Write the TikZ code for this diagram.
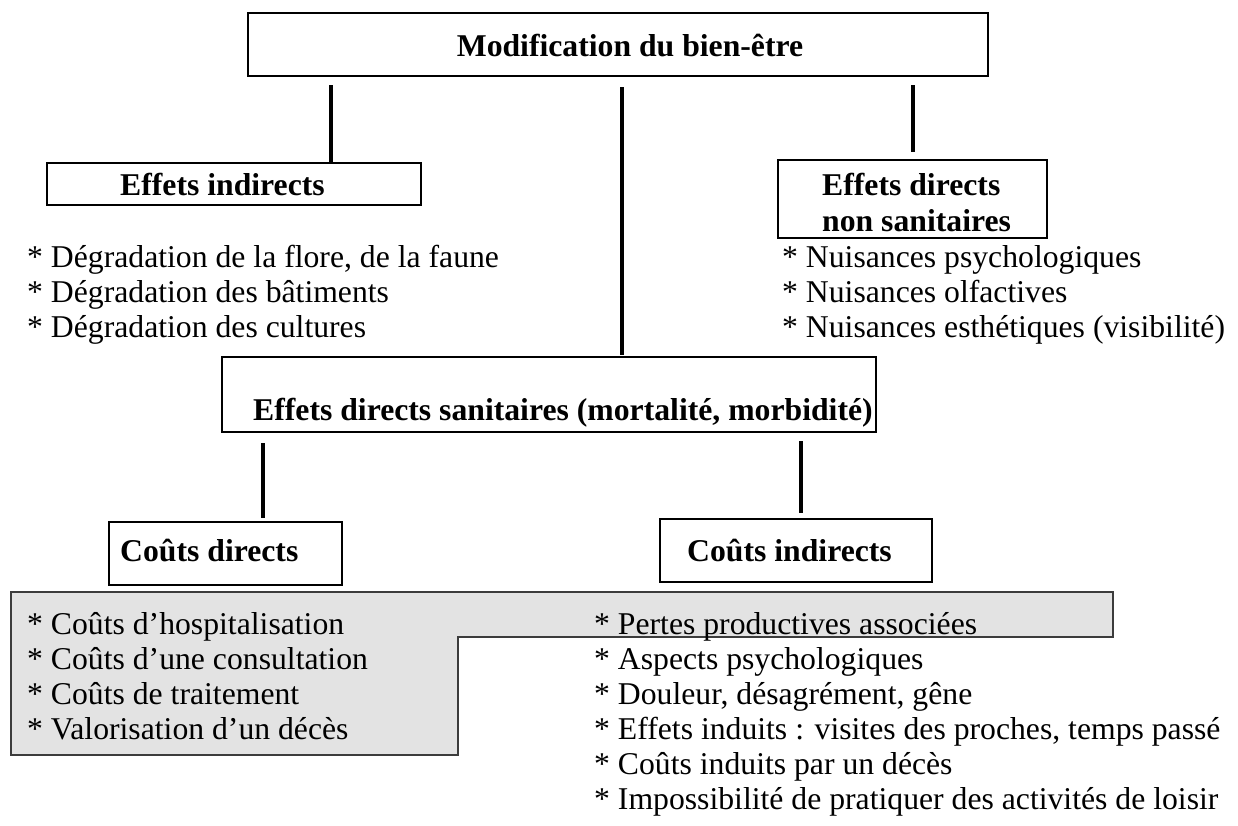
\documentclass[tikz,border=0pt]{standalone}
\usepackage{fontspec}
\setmainfont{Liberation Serif}
\definecolor{greyfill}{RGB}{227,227,227}
\definecolor{greyline}{RGB}{60,60,60}
\begin{document}
\begin{tikzpicture}[x=1pt,y=-1pt,
  every node/.style={font=\fontsize{31.7}{36}\selectfont},
  box/.style={draw=black,line width=2.3pt,rectangle,inner sep=0pt},
  title/.style={font=\fontsize{31.7}{36}\selectfont\bfseries,inner sep=0pt},
  item/.style={inner sep=0pt,anchor=base west},
  conn/.style={line width=4.5pt,black}]
\useasboundingbox (0,0) rectangle (1238,825);
% grey area
\fill[greyfill,draw=greyline,line width=1.5pt] (11,592) -- (1113,592) -- (1113,637) -- (458,637) -- (458,755) -- (11,755) -- cycle;
% boxes
\node[box,minimum width=740pt,minimum height=63pt] (top) at (618,44.5) {};
\node[box,minimum width=374pt,minimum height=42pt] (ei) at (234,184) {};
\node[box,minimum width=269pt,minimum height=78pt] (ednc) at (912.5,199) {};
\node[box,minimum width=654pt,minimum height=75pt] (eds) at (549,394.5) {};
\node[box,minimum width=233pt,minimum height=63pt] (cd) at (225.5,553.5) {};
\node[box,minimum width=272pt,minimum height=63pt] (ci) at (796,550.5) {};
% box texts
\node[title,anchor=base] (ttop) at (630,56) {Modification du bien-être};
\node[title,anchor=base west] (tei) at (120,195) {Effets indirects};
\node[title,anchor=base west] (tednc1) at (822,195) {Effets directs};
\node[title,anchor=base west] (tednc2) at (822,231) {non sanitaires};
\node[title,anchor=base west] (teds) at (253,420) {Effets directs sanitaires (mortalité, morbidité)};
\node[title,anchor=base west] (tcd) at (120,561) {Coûts directs};
\node[title,anchor=base west] (tci) at (687,561) {Coûts indirects};
% connectors
\coordinate (c1a) at (331,85);  \coordinate (c1b) at (331,164);
\coordinate (c2a) at (622,87);  \coordinate (c2b) at (622,355);
\coordinate (c3a) at (913,85);  \coordinate (c3b) at (913,152);
\coordinate (c4a) at (263,443); \coordinate (c4b) at (263,518);
\coordinate (c5a) at (801,441); \coordinate (c5b) at (801,513);
\draw[conn] (c1a) -- (c1b);
\draw[conn] (c2a) -- (c2b);
\draw[conn] (c3a) -- (c3b);
\draw[conn] (c4a) -- (c4b);
\draw[conn] (c5a) -- (c5b);
% lists
\node[item] (l1) at (27,267) {* Dégradation de la flore, de la faune};
\node[item] (l2) at (27,302) {* Dégradation des bâtiments};
\node[item] (l3) at (27,337) {* Dégradation des cultures};
\node[item] (r1) at (782,267) {* Nuisances psychologiques};
\node[item] (r2) at (782,302) {* Nuisances olfactives};
\node[item] (r3) at (782,337) {* Nuisances esthétiques (visibilité)};
\node[item] (d1) at (27,634) {* Coûts d’hospitalisation};
\node[item] (d2) at (27,669) {* Coûts d’une consultation};
\node[item] (d3) at (27,704) {* Coûts de traitement};
\node[item] (d4) at (27,739) {* Valorisation d’un décès};
\node[item] (i1) at (594,634) {* Pertes productives associées};
\node[item] (i2) at (594,669) {* Aspects psychologiques};
\node[item] (i3) at (594,704) {* Douleur, désagrément, gêne};
\node[item] (i4) at (594,739) {* Effets induits : visites des proches, temps passé};
\node[item] (i5) at (594,774) {* Coûts induits par un décès};
\node[item] (i6) at (594,809) {* Impossibilité de pratiquer des activités de loisir};
\end{tikzpicture}
\end{document}
